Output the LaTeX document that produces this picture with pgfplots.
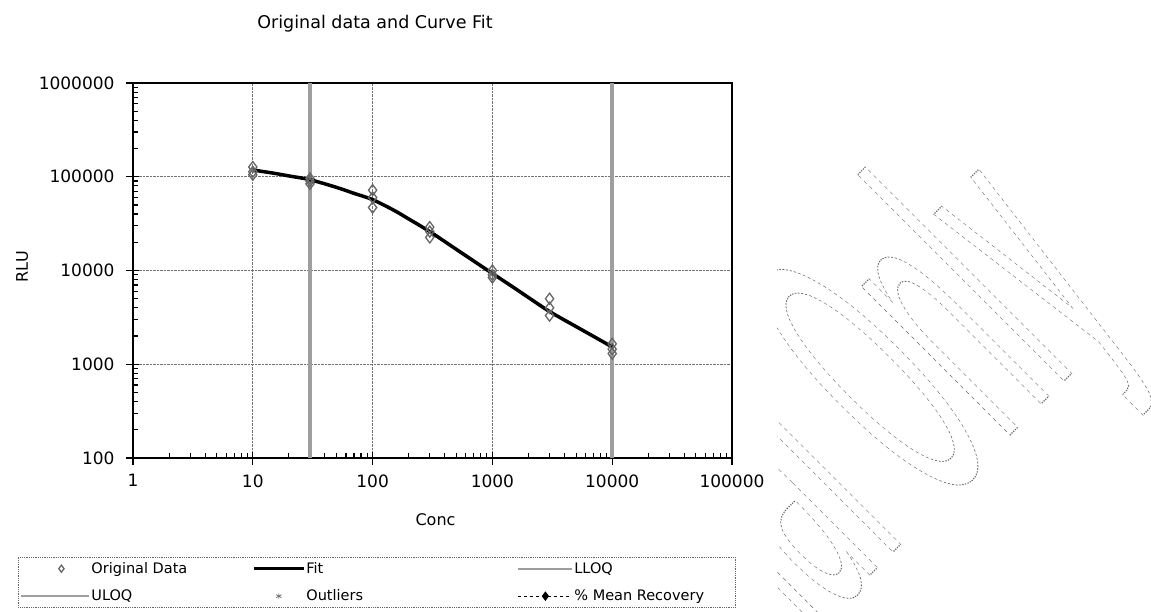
\documentclass[border=0pt]{standalone}
\usepackage{pgfplots}
\pgfplotsset{compat=1.18}
\usepackage{fontspec}
\setmainfont{DejaVu Sans}
\newcommand{\tickfont}{\fontsize{17}{20}\selectfont}
\newcommand{\labfont}{\fontsize{16}{19}\selectfont}
\newcommand{\titfont}{\fontsize{17.5}{21}\selectfont}
\newcommand{\legfont}{\fontsize{14.5}{17}\selectfont}
\newcommand{\wmfont}{\fontsize{100}{100}\selectfont}
\newcommand{\outlineon}{\special{pdf:literal direct 1 Tr 0.4 G 0.3 w [1 1] 0 d}}
\newcommand{\outlineoff}{\special{pdf:literal direct 0 Tr [] 0 d}}
\definecolor{loq}{gray}{0.62}
\pgfplotsset{
 imgData/.style={legend image code/.code={\path[draw=none] (0pt,0pt) -- (68pt,0pt); \draw[##1, mark size=3.5pt] plot coordinates {(40pt,0pt)};}},
 imgFit/.style={legend image code/.code={\draw[##1, solid, line width=3pt] (0pt,0pt) -- (50pt,0pt);}},
 imgLa/.style={legend image code/.code={\draw[##1] (0pt,0pt) -- (54pt,0pt);}},
 imgLb/.style={legend image code/.code={\draw[##1] (0pt,0pt) -- (68pt,0pt);}},
 imgOut/.style={legend image code/.code={\path[draw=none] (0pt,0pt) -- (50pt,0pt); \draw[##1] plot coordinates {(25pt,0pt)};}},
 imgMR/.style={legend image code/.code={\draw[##1] (0pt,0pt) -- (54pt,0pt); \draw[##1] plot coordinates {(27pt,0pt)};}},
}
\begin{document}
\begin{tikzpicture}
\path (0pt,0pt) rectangle (1151pt,612pt);
\begin{axis}[
 set layers,
 at={(133pt,154pt)}, anchor=south west,
 scale only axis, width=599pt, height=375pt,
 xmode=log, ymode=log,
 xmin=1, xmax=100000, ymin=100, ymax=1000000,
 xtick={1,10,100,1000,10000,100000},
 xticklabels={1,10,100,1000,10000,100000},
 ytick={100,1000,10000,100000,1000000},
 yticklabels={100,1000,10000,100000,1000000},
 tick pos=left,
 tick align=inside,
 major tick length=6pt, minor tick length=5pt,
 every tick/.style={black, line width=1.1pt},
 extra x ticks={1,10,100,1000,10000,100000},
 extra x tick labels={,,,,,},
 extra y ticks={100,1000,10000,100000,1000000},
 extra y tick labels={,,,,},
 extra tick style={tick align=outside, grid=none, major tick length=7pt},
 axis line style={line width=1.8pt, black},
 xmajorgrids, ymajorgrids,
 major grid style={densely dotted, black!55, line width=0.8pt},
 /pgf/number format/assume math mode=true,
 ticklabel style={font=\tickfont},
 xticklabel style={yshift=-13pt},
 yticklabel style={xshift=-15pt},
 xlabel={Conc}, ylabel={RLU},
 every axis x label/.style={at={(axis description cs:0.505,-0.165)}, anchor=center, font=\labfont},
 every axis y label/.style={at={(axis description cs:-0.185,0.51)}, anchor=center, rotate=90, font=\labfont},
 title={Original data and Curve Fit},
 title style={at={(axis description cs:0.404,1.141)}, anchor=center, font=\titfont},
 legend columns=3,
 legend cell align=left,
 legend style={at={(axis description cs:-0.192,-0.264)}, anchor=north west,
   draw=black!60, densely dotted, line width=0.8pt,
   inner xsep=2pt, inner ysep=4pt, column sep=0pt, row sep=13pt,
   nodes={inner sep=1pt, anchor=west, font=\legfont, solid}},
]
% LLOQ and ULOQ vertical lines (drawn underneath)
\addplot[loq, line width=4pt, forget plot] coordinates {(30,100) (30,1000000)};
\addplot[loq, line width=4pt, forget plot] coordinates {(10000,100) (10000,1000000)};

% Original data
\addplot[only marks, mark=diamond, mark size=5.5pt, black!70,
  mark layer=axis foreground,
  mark options={solid, line width=1.3pt, draw=black!60, fill=none},
  imgData]
 coordinates {
 (10,127000) (10,113000) (10,105000)
 (30,96000) (30,90000) (30,84000)
 (100,72000) (100,60000) (100,47000)
 (300,29000) (300,26000) (300,22500)
 (1000,10000) (1000,9000) (1000,8400)
 (3000,5000) (3000,4000) (3000,3300)
 (10000,1650) (10000,1450) (10000,1300)
 };
\addlegendentry{\makebox[160pt][l]{Original Data}}

% Fit
\addplot[black, solid, line width=3.5pt, smooth, imgFit]
 coordinates {
 (10,118000) (15,109000) (20,102000) (30,93000) (50,77000) (70,66500)
 (100,57000) (150,44000) (200,35500) (300,26000) (500,16800) (700,12600)
 (1000,9300) (1500,6600) (2000,5150) (3000,3650) (5000,2520) (7000,1980)
 (10000,1530)
 };
\addlegendentry{\makebox[210pt][l]{Fit}}

\addlegendimage{loq, solid, line width=2pt, imgLa}
\addlegendentry{\makebox[158pt][l]{LLOQ}}

\addlegendimage{loq, solid, line width=2pt, imgLb}
\addlegendentry{\makebox[160pt][l]{ULOQ}}

\addlegendimage{only marks, mark=asterisk, mark size=3pt, black!60,
  mark options={solid, line width=0.7pt}, imgOut}
\addlegendentry{\makebox[210pt][l]{Outliers}}

\addlegendimage{black, dashed, line width=1pt, mark=diamond*, mark size=4pt,
  mark options={solid, fill=black}, imgMR}
\addlegendentry{\makebox[158pt][l]{\% Mean Recovery}}
\end{axis}
% watermark
\begin{scope}[overlay]
\clip (777pt,0pt) rectangle (1151pt,612pt);
\node[anchor=base west, rotate=45, xscale=1.2, yscale=3.84, transform shape,
  inner sep=0pt, font=\wmfont] at (735pt,-98pt) {\outlineon Trial Only\outlineoff};
\end{scope}
\end{tikzpicture}
\end{document}
